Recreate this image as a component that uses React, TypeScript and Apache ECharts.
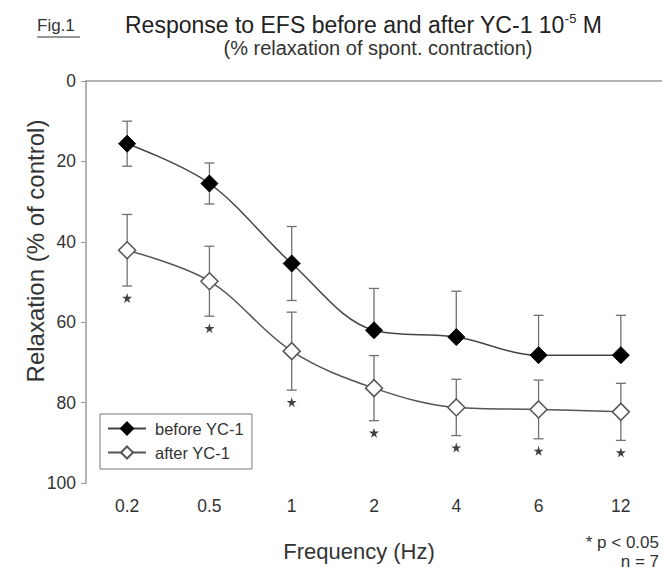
import React, { useEffect, useRef } from "react";
import * as echarts from "echarts";

const categories = ["0.2", "0.5", "1", "2", "4", "6", "12"];
const beforeMean = [15.6, 25.5, 45.4, 62.0, 63.7, 68.2, 68.2];
const beforeSem = [5.6, 5.1, 9.2, 10.4, 11.4, 9.9, 9.9];
const beforeLowerBar = [1, 1, 1, 0, 0, 0, 0];
const afterMean = [42.1, 49.8, 67.2, 76.4, 81.2, 81.7, 82.3];
const afterSem = [8.9, 8.7, 9.7, 8.1, 7.0, 7.3, 7.1];
const afterLowerBar = [1, 1, 1, 1, 1, 1, 1];
const significant = [1, 1, 1, 1, 1, 1, 1];
const yMin = 0;
const yMax = 100;
const yInterval = 20;

const FONT = "Liberation Sans, Arial, sans-serif";
const STAR =
  "path://M50,0 L61,35 L98,35 L68,57 L79,91 L50,70 L21,91 L32,57 L2,35 L39,35 Z";

function errorBarSeries(name: string, mean: number[], sem: number[], lower: number[]) {
  return {
    type: "custom",
    name: name + "-err",
    z: 1,
    silent: true,
    data: mean.map((m, i) => [i, m, sem[i], lower[i]]),
    renderItem: (params: any, api: any) => {
      const i = api.value(0);
      const m = api.value(1);
      const s = api.value(2);
      const lo = api.value(3);
      const c = api.coord([i, m]);
      const t = api.coord([i, m - s]);
      const b = api.coord([i, m + s]);
      const cap = 5;
      const st = { stroke: "#707070", lineWidth: 1.3 };
      const children: any[] = [
        { type: "line", shape: { x1: c[0], y1: c[1], x2: t[0], y2: t[1] }, style: st },
        { type: "line", shape: { x1: t[0] - cap, y1: t[1], x2: t[0] + cap, y2: t[1] }, style: st },
      ];
      if (lo) {
        children.push(
          { type: "line", shape: { x1: c[0], y1: c[1], x2: b[0], y2: b[1] }, style: st },
          { type: "line", shape: { x1: b[0] - cap, y1: b[1], x2: b[0] + cap, y2: b[1] }, style: st }
        );
      }
      return { type: "group", children };
    },
  };
}

export default function App() {
  const ref = useRef<HTMLDivElement>(null);
  useEffect(() => {
    if (!ref.current) return;
    document.body.style.margin = "0";
    const chart = echarts.init(ref.current, null, { renderer: "svg" });
    chart.setOption({
      animation: false,
      backgroundColor: "#ffffff",
      textStyle: { fontFamily: FONT },
      grid: { left: 86, right: -2, top: 81, bottom: 89 },
      legend: {
        data: ["before YC-1", "after YC-1"],
        orient: "vertical",
        left: 100,
        top: 414,
        selectedMode: false,
        borderColor: "#777",
        borderWidth: 1,
        padding: [6, 8, 8, 7],
        itemGap: 7,
        itemWidth: 38,
        itemHeight: 15,
        textStyle: { fontSize: 16.5, color: "#333", fontFamily: FONT, padding: [0, 0, 0, 4] },
      },
      xAxis: {
        type: "category",
        data: categories,
        boundaryGap: true,
        axisLine: { lineStyle: { color: "#999", width: 1.5 } },
        axisTick: { alignWithLabel: true, length: 5, lineStyle: { color: "#999" } },
        axisLabel: { fontSize: 17.5, color: "#333", margin: 14, fontFamily: FONT },
        splitLine: { show: false },
      },
      yAxis: {
        type: "value",
        inverse: true,
        min: yMin,
        max: yMax,
        interval: yInterval,
        axisLine: { show: true, lineStyle: { color: "#999", width: 1.5 } },
        axisTick: { show: true, length: 5, lineStyle: { color: "#999" } },
        axisLabel: { fontSize: 17.5, color: "#333", margin: 10, fontFamily: FONT },
        splitLine: { show: false },
      },
      series: [
        errorBarSeries("before", beforeMean, beforeSem, beforeLowerBar),
        errorBarSeries("after", afterMean, afterSem, afterLowerBar),
        {
          type: "line",
          name: "before YC-1",
          data: beforeMean,
          smooth: 0.35,
          z: 3,
          symbol: "diamond",
          symbolSize: 17,
          lineStyle: { color: "#444", width: 1.5 },
          itemStyle: { color: "#000", borderColor: "#000", borderWidth: 1 },
        },
        {
          type: "line",
          name: "after YC-1",
          data: afterMean,
          smooth: 0.35,
          z: 3,
          symbol: "diamond",
          symbolSize: 17,
          lineStyle: { color: "#555", width: 1.5 },
          itemStyle: { color: "#fff", borderColor: "#555", borderWidth: 1.5 },
        },
        {
          type: "scatter",
          name: "sig",
          silent: true,
          z: 3,
          data: afterMean
            .map((m, i) => (significant[i] ? [i, m + afterSem[i]] : null))
            .filter((d) => d !== null),
          symbol: STAR,
          symbolSize: 10,
          symbolOffset: [0, 12],
          itemStyle: { color: "#111" },
        },
      ],
      graphic: [
        {
          type: "text",
          left: 37,
          top: 17,
          style: { text: "Fig.1", fontSize: 17, fill: "#333", fontFamily: FONT },
        },
        {
          type: "line",
          shape: { x1: 37, y1: 37, x2: 80, y2: 37 },
          style: { stroke: "#333", lineWidth: 1 },
        },
        {
          type: "text",
          left: 125,
          top: 12,
          style: {
            text: "{t|Response to EFS before and after YC-1 10}{s|-5}{t| M}",
            fill: "#222",
            fontFamily: FONT,
            rich: {
              t: { fontSize: 23, fontFamily: FONT, fill: "#222", lineHeight: 26 },
              s: { fontSize: 13, fontFamily: FONT, fill: "#222", verticalAlign: "top", lineHeight: 14 },
            },
          },
        },
        {
          type: "text",
          x: 378,
          y: 48,
          style: {
            text: "(% relaxation of spont. contraction)",
            fontSize: 20,
            fill: "#333",
            fontFamily: FONT,
            align: "center",
            verticalAlign: "middle",
          },
        },
        {
          type: "text",
          x: 35,
          y: 251,
          rotation: Math.PI / 2,
          style: {
            text: "Relaxation (% of control)",
            fontSize: 24,
            fill: "#333",
            fontFamily: FONT,
            align: "center",
            verticalAlign: "middle",
          },
        },
        {
          type: "text",
          x: 359,
          y: 551,
          style: {
            text: "Frequency (Hz)",
            fontSize: 22,
            fill: "#333",
            fontFamily: FONT,
            align: "center",
            verticalAlign: "middle",
          },
        },
        {
          type: "text",
          x: 659,
          y: 542,
          style: {
            text: "* p < 0.05",
            fontSize: 17,
            fill: "#333",
            fontFamily: FONT,
            align: "right",
            verticalAlign: "middle",
          },
        },
        {
          type: "text",
          x: 659,
          y: 561,
          style: {
            text: "n = 7",
            fontSize: 17,
            fill: "#333",
            fontFamily: FONT,
            align: "right",
            verticalAlign: "middle",
          },
        },
      ],
    });
    return () => chart.dispose();
  }, []);
  return <div ref={ref} style={{ width: 662, height: 572 }} />;
}
